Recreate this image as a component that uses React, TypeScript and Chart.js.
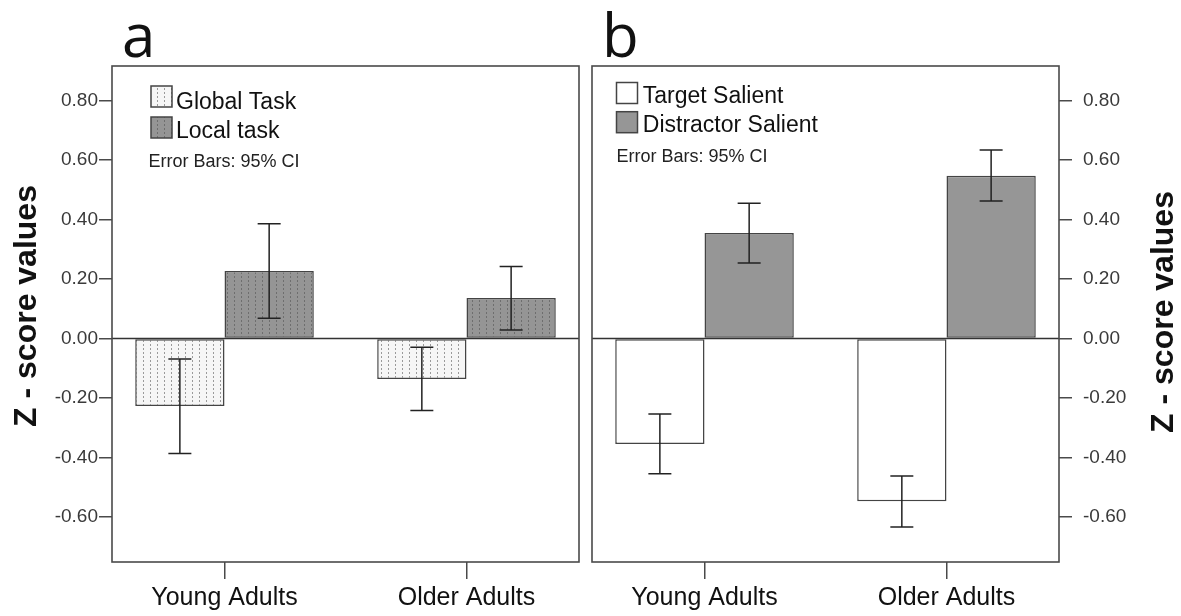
import React, { useEffect, useRef } from 'react';
import { Chart, registerables } from 'chart.js';

Chart.register(...registerables);

// ---------- data ----------
const categories = ['Young Adults', 'Older Adults'];
const categoryPositions = [0, 1];
const yTickValues = [-0.6, -0.4, -0.2, 0, 0.2, 0.4, 0.6, 0.8];

// panel a
const globalTask = [-0.227, -0.136];
const globalTaskLow = [-0.387, -0.242];
const globalTaskHigh = [-0.069, -0.029];
const localTask = [0.227, 0.136];
const localTaskLow = [0.068, 0.029];
const localTaskHigh = [0.386, 0.242];

// panel b
const targetSalient = [-0.355, -0.548];
const targetSalientLow = [-0.455, -0.634];
const targetSalientHigh = [-0.254, -0.463];
const distractorSalient = [0.355, 0.548];
const distractorSalientLow = [0.254, 0.463];
const distractorSalientHigh = [0.455, 0.634];

const FONT = '"Liberation Sans", Arial, sans-serif';
const H = 616;

function makePattern(bg: string, dot: string) {
  const c = document.createElement('canvas');
  c.width = 7;
  c.height = 4;
  const g = c.getContext('2d')!;
  g.fillStyle = bg;
  g.fillRect(0, 0, 7, 4);
  g.fillStyle = dot;
  g.fillRect(3, 0, 1, 2);
  const main = document.createElement('canvas').getContext('2d')!;
  return main.createPattern(c, 'repeat') as CanvasPattern;
}

type PanelCfg = {
  left: number;
  width: number;
  padding: { left: number; right: number; top: number; bottom: number };
  yPosition: 'left' | 'right';
  yWidth: number;
  tickPadding: number;
  letter: string;
  letterX: number;
  titleX: number;
  titleY: number;
  series: { label: string; values: number[]; low: number[]; high: number[]; fill: () => any }[];
  legendSwatchX: number;
  legendTops: number[];
  legendTextX: number;
  legendBaselines: number[];
  noteX: number;
  noteBaseline: number;
};

function Panel({ cfg }: { cfg: PanelCfg }) {
  const ref = useRef<HTMLCanvasElement>(null);
  useEffect(() => {
    const fills = cfg.series.map((s) => s.fill());
    const decor = {
      id: 'decor',
      afterDatasetsDraw(chart: any) {
        const { ctx, chartArea: ca, scales } = chart;
        const y = scales.y;
        ctx.save();
        const y0 = y.getPixelForValue(0);
        ctx.strokeStyle = '#333';
        ctx.lineWidth = 1.5;
        ctx.beginPath();
        ctx.moveTo(ca.left, y0);
        ctx.lineTo(ca.right, y0);
        ctx.stroke();
        ctx.strokeStyle = '#222';
        ctx.lineWidth = 1.5;
        cfg.series.forEach((s, i) => {
          const meta = chart.getDatasetMeta(i);
          meta.data.forEach((el: any, j: number) => {
            const x = el.x;
            const lo = y.getPixelForValue(s.low[j]);
            const hi = y.getPixelForValue(s.high[j]);
            ctx.beginPath();
            ctx.moveTo(x, lo);
            ctx.lineTo(x, hi);
            ctx.moveTo(x - 11.5, lo);
            ctx.lineTo(x + 11.5, lo);
            ctx.moveTo(x - 11.5, hi);
            ctx.lineTo(x + 11.5, hi);
            ctx.stroke();
          });
        });
        ctx.strokeStyle = '#4a4a4a';
        ctx.lineWidth = 1.6;
        ctx.strokeRect(ca.left, ca.top, ca.right - ca.left, ca.bottom - ca.top);
        ctx.restore();
      },
      afterDraw(chart: any) {
        const { ctx } = chart;
        ctx.save();
        ctx.fillStyle = '#111';
        ctx.font = '60px "Open Sans", sans-serif';
        ctx.textAlign = 'left';
        ctx.textBaseline = 'alphabetic';
        ctx.fillText(cfg.letter, cfg.letterX, 57);
        ctx.save();
        ctx.translate(cfg.titleX, cfg.titleY);
        ctx.rotate(-Math.PI / 2);
        ctx.font = 'bold 32px ' + FONT;
        ctx.textAlign = 'center';
        ctx.fillText('Z - score values', 0, 0);
        ctx.restore();
        ctx.font = '23px ' + FONT;
        cfg.series.forEach((s, i) => {
          ctx.fillStyle = fills[i];
          ctx.fillRect(cfg.legendSwatchX, cfg.legendTops[i], 21, 21);
          ctx.strokeStyle = '#444';
          ctx.lineWidth = 1.5;
          ctx.strokeRect(cfg.legendSwatchX, cfg.legendTops[i], 21, 21);
          ctx.fillStyle = '#111';
          ctx.fillText(s.label, cfg.legendTextX, cfg.legendBaselines[i]);
        });
        ctx.font = '18px ' + FONT;
        ctx.fillStyle = '#222';
        ctx.fillText('Error Bars: 95% CI', cfg.noteX, cfg.noteBaseline);
        ctx.restore();
      },
    };

    const chart = new Chart(ref.current!, {
      type: 'bar',
      data: {
        datasets: cfg.series.map((s, i) => ({
          label: s.label,
          data: categoryPositions.map((x, j) => ({ x, y: s.values[j] })),
          backgroundColor: fills[i],
          borderColor: '#444',
          borderWidth: 1.5,
          borderSkipped: false,
          categoryPercentage: 0.738,
          barPercentage: 1,
        })),
      },
      options: {
        responsive: false,
        animation: false,
        devicePixelRatio: 1,
        events: [],
        layout: { padding: cfg.padding },
        plugins: { legend: { display: false }, tooltip: { enabled: false } },
        scales: {
          x: {
            type: 'linear',
            offset: false,
            min: -0.465,
            max: 1.465,
            afterBuildTicks: (scale: any) => {
              scale.ticks = categoryPositions.map((v) => ({ value: v }));
            },
            afterFit: (scale: any) => {
              scale.height = 54;
            },
            grid: {
              offset: false,
              drawOnChartArea: false,
              color: '#4a4a4a',
              tickColor: '#4a4a4a',
              tickLength: 17,
              lineWidth: 1.5,
            },
            border: { display: false },
            ticks: {
              autoSkip: false,
              maxRotation: 0,
              padding: 4,
              color: '#111',
              font: { family: FONT, size: 25 },
              callback: (v: any) => categories[categoryPositions.indexOf(Number(v))] ?? '',
            },
          },
          y: {
            type: 'linear',
            position: cfg.yPosition,
            min: -0.752,
            max: 0.917,
            afterBuildTicks: (scale: any) => {
              scale.ticks = yTickValues.map((v) => ({ value: v }));
            },
            afterFit: (scale: any) => {
              scale.width = cfg.yWidth;
            },
            grid: {
              drawOnChartArea: false,
              color: '#4a4a4a',
              tickColor: '#4a4a4a',
              tickLength: 13,
              lineWidth: 1.5,
            },
            border: { display: false },
            ticks: {
              autoSkip: false,
              padding: cfg.tickPadding,
              color: '#3a3a3a',
              font: { family: FONT, size: 19 },
              callback: (v: any) => Number(v).toFixed(2),
            },
          },
        },
      },
      plugins: [decor],
    } as any);
    return () => chart.destroy();
  }, []);
  return (
    <canvas
      ref={ref}
      width={cfg.width}
      height={H}
      style={{ position: 'absolute', left: cfg.left, top: 0, width: cfg.width, height: H }}
    />
  );
}

const panelA: PanelCfg = {
  left: 0,
  width: 585,
  padding: { left: 0, right: 6, top: 66, bottom: 0 },
  yPosition: 'left',
  yWidth: 112,
  tickPadding: 1,
  letter: 'a',
  letterX: 122,
  titleX: 36,
  titleY: 306,
  series: [
    { label: 'Global Task', values: globalTask, low: globalTaskLow, high: globalTaskHigh, fill: () => makePattern('#f6f6f6', '#9a9a9a') },
    { label: 'Local task', values: localTask, low: localTaskLow, high: localTaskHigh, fill: () => makePattern('#959595', '#6e6e6e') },
  ],
  legendSwatchX: 151,
  legendTops: [86, 117],
  legendTextX: 176,
  legendBaselines: [109, 137.5],
  noteX: 148.5,
  noteBaseline: 166.7,
};

const panelB: PanelCfg = {
  left: 585,
  width: 596,
  padding: { left: 7, right: 42, top: 66, bottom: 0 },
  yPosition: 'right',
  yWidth: 80,
  tickPadding: 11,
  letter: 'b',
  letterX: 17,
  titleX: 588,
  titleY: 312,
  series: [
    { label: 'Target Salient', values: targetSalient, low: targetSalientLow, high: targetSalientHigh, fill: () => '#ffffff' },
    { label: 'Distractor Salient', values: distractorSalient, low: distractorSalientLow, high: distractorSalientHigh, fill: () => '#969696' },
  ],
  legendSwatchX: 31.5,
  legendTops: [82.5, 111.7],
  legendTextX: 57.8,
  legendBaselines: [103.3, 132.3],
  noteX: 31.4,
  noteBaseline: 162.3,
};

export default function App() {
  return (
    <div style={{ position: 'absolute', left: 0, top: 0, width: 1181, height: H, background: '#fff', overflow: 'hidden' }}>
      <Panel cfg={panelA} />
      <Panel cfg={panelB} />
    </div>
  );
}
